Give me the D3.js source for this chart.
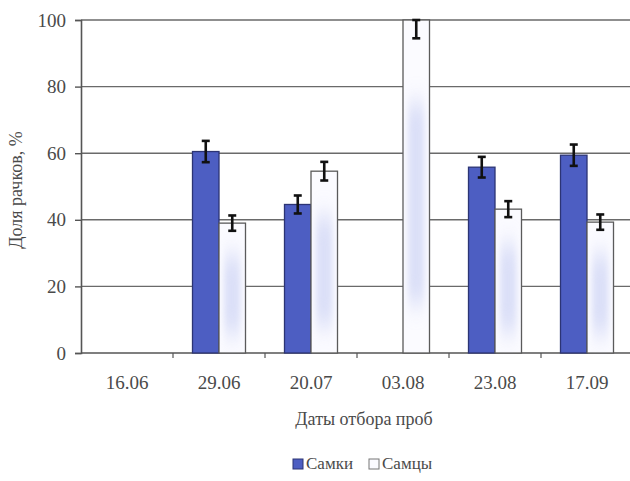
<!DOCTYPE html>
<html>
<head>
<meta charset="utf-8">
<script src="https://cdn.jsdelivr.net/npm/d3@7"></script>
<style>
  html, body { margin: 0; padding: 0; background: #fff; }
  svg { display: block; }
  svg text { font-family: "Liberation Serif", "Tinos", "Times New Roman", "DejaVu Serif", serif !important; fill: #4a4a4a; }
</style>
</head>
<body>
<svg id="chart" width="630" height="481"></svg>
<script>
// Sampling dates
const categories = ["16.06", "29.06", "20.07", "03.08", "23.08", "17.09"];
// Share of females and males, % (null = no bar)
const femaleValues = [null, 60.5, 44.6, null, 55.8, 59.4];
const maleValues   = [null, 39.0, 54.6, 100, 43.2, 39.3];
// Error half-widths, %
const femaleErrors = [null, 3.2, 2.7, null, 3.1, 3.2];
const maleErrors   = [null, 2.3, 2.8, 5.5, 2.4, 2.3];
const yTicks = [0, 20, 40, 60, 80, 100];
const seriesNames = ["Самки", "Самцы"];

const FONT = '"Liberation Serif", "Tinos", "Times New Roman", "DejaVu Serif", serif';
const svg = d3.select("#chart");
const margin = { left: 81, top: 20, bottom: 128 };
const H = 481;
const plotRight = 633;

const x = d3.scaleBand().domain(categories).range([margin.left, plotRight]).padding(0);
const y = d3.scaleLinear().domain([0, 100]).range([H - margin.bottom, margin.top]);
const barW = 26.5;

const defs = svg.append("defs");
const blur = defs.append("filter").attr("id", "haze")
  .attr("x", "-50%").attr("y", "-30%").attr("width", "200%").attr("height", "160%");
blur.append("feGaussianBlur").attr("stdDeviation", "3 12");

// Horizontal gridlines
svg.append("g").selectAll("line").data(yTicks.filter(d => d > 0)).join("line")
  .attr("x1", margin.left).attr("x2", 630)
  .attr("y1", d => y(d)).attr("y2", d => y(d))
  .attr("stroke", "#6a6a6a").attr("stroke-width", 1.4);

// Y axis
const yAxis = d3.axisLeft(y).tickValues(yTicks).tickSize(6).tickPadding(9).tickFormat(d3.format("d"));
const gy = svg.append("g").attr("transform", `translate(${margin.left},0)`).call(yAxis)
  .attr("font-family", FONT);
gy.select(".domain").attr("stroke", "#555").attr("stroke-width", 1.6);
gy.selectAll(".tick line").attr("stroke", "#555").attr("stroke-width", 1.4);
gy.selectAll(".tick text").attr("font-size", 19).style("fill", "#4a4a4a");

// X axis with ticks at category boundaries
const gx = svg.append("g").attr("transform", `translate(0,${y(0)})`);
gx.append("line").attr("x1", margin.left).attr("x2", 630).attr("y1", 0).attr("y2", 0)
  .attr("stroke", "#555").attr("stroke-width", 1.6);
gx.selectAll("line.tk").data(categories.slice(1)).join("line").attr("class", "tk")
  .attr("x1", d => x(d)).attr("x2", d => x(d)).attr("y1", 0).attr("y2", 5)
  .attr("stroke", "#555").attr("stroke-width", 1.2);
gx.selectAll("text").data(categories).join("text")
  .attr("x", d => x(d) + x.bandwidth() / 2).attr("y", 36)
  .attr("text-anchor", "middle").attr("font-size", 19).text(d => d);

// Bars
const bars = svg.append("g");
categories.forEach((c, i) => {
  const cx = x(c) + x.bandwidth() / 2;
  const f = femaleValues[i], m = maleValues[i];
  if (f != null) {
    bars.append("rect").attr("x", cx - barW).attr("y", y(f))
      .attr("width", barW).attr("height", y(0) - y(f))
      .attr("fill", "#4d5ec2").attr("stroke", "#2c3474").attr("stroke-width", 1.3);
  }
  if (m != null) {
    bars.append("rect").attr("x", cx).attr("y", y(m))
      .attr("width", barW).attr("height", y(0) - y(m))
      .attr("fill", "#fbfbff").attr("stroke", "#5a5a5a").attr("stroke-width", 1.3);
    // soft blue shading inside the light bar
    const h = y(0) - y(m);
    bars.append("rect").attr("x", cx + 5).attr("y", y(m) + h * 0.25)
      .attr("width", barW - 10).attr("height", h * 0.6)
      .attr("fill", "#c6cdf3").attr("opacity", 0.6).attr("filter", "url(#haze)");
  }
});

// Error bars
const errG = svg.append("g").attr("stroke", "#111").attr("stroke-width", 2.6);
function errBar(cx, v, e) {
  const top = Math.min(100, v + e), bot = v - e;
  errG.append("line").attr("x1", cx).attr("x2", cx).attr("y1", y(top)).attr("y2", y(bot));
  errG.append("line").attr("x1", cx - 4).attr("x2", cx + 4).attr("y1", y(top)).attr("y2", y(top));
  errG.append("line").attr("x1", cx - 4).attr("x2", cx + 4).attr("y1", y(bot)).attr("y2", y(bot));
}
categories.forEach((c, i) => {
  const cx = x(c) + x.bandwidth() / 2;
  if (femaleValues[i] != null) errBar(cx - barW / 2, femaleValues[i], femaleErrors[i]);
  if (maleValues[i] != null) errBar(cx + barW / 2, maleValues[i], maleErrors[i]);
});

// Axis titles
svg.append("text").attr("x", 364).attr("y", 425).attr("text-anchor", "middle")
  .attr("font-size", 18).text("Даты отбора проб");
svg.append("text").attr("transform", "translate(22,190) rotate(-90)")
  .attr("text-anchor", "middle").attr("font-size", 18).text("Доля рачков, %");

// Legend
const legend = svg.append("g").attr("transform", "translate(293,469)");
const lgFill = ["#4d5ec2", "#fbfbff"], lgStroke = ["#2c3474", "#777"];
let lx = 0;
seriesNames.forEach((name, i) => {
  legend.append("rect").attr("x", lx).attr("y", -10).attr("width", 10).attr("height", 10)
    .attr("fill", lgFill[i]).attr("stroke", lgStroke[i]).attr("stroke-width", 1);
  const t = legend.append("text").attr("x", lx + 13).attr("y", 0).attr("font-size", 17).text(name);
  lx += 13 + t.node().getComputedTextLength() + 16;
});
</script>
</body>
</html>
